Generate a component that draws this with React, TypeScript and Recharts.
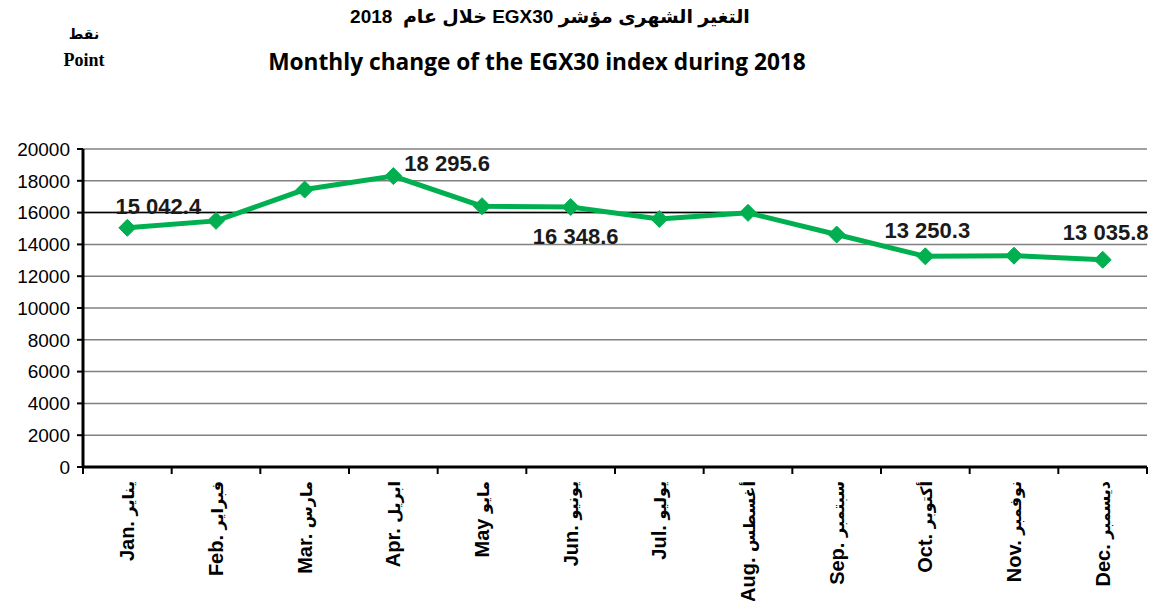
import { LineChart, Line, XAxis, YAxis, CartesianGrid, ReferenceLine } from "recharts";

const months = ["Jan.", "Feb.", "Mar.", "Apr.", "May", "Jun.", "Jul.", "Aug.", "Sep.", "Oct.", "Nov.", "Dec."];
const monthsAr = ["يناير", "فبراير", "مارس", "ابريل", "مايو", "يونيو", "يوليو", "أغسطس", "سبتمبر", "أكتوبر", "نوفمبر", "ديسمبر"];
const egx30 = [15042.4, 15480, 17450, 18295.6, 16400, 16348.6, 15600, 15985, 14620, 13250.3, 13290, 13035.8];
const yTicks = [0, 2000, 4000, 6000, 8000, 10000, 12000, 14000, 16000, 18000, 20000];
const labelledPoints = [0, 3, 5, 9, 11];

const W = 1159;
const H = 601;
const PLOT_LEFT = 83;
const PLOT_RIGHT = 12;
const HALF_BAND = (W - PLOT_LEFT - PLOT_RIGHT) / 24;
const GREEN = "#00b050";
const FONT = "'Liberation Sans', Arial, 'DejaVu Sans', sans-serif";

// where each value label sits relative to its marker
const LABEL_POS: Record<number, { dx: number; dy: number; anchor: "start" | "middle" | "end" }> = {
  0: { dx: 31, dy: -14, anchor: "middle" },
  3: { dx: 11, dy: -5, anchor: "start" },
  5: { dx: 5, dy: 37, anchor: "middle" },
  9: { dx: 2, dy: -18, anchor: "middle" },
  11: { dx: 3, dy: -20, anchor: "middle" },
};

const data = months.map((m, i) => ({ month: m, ar: monthsAr[i], value: egx30[i] }));

function fmtSpace(v: number): string {
  const [int, dec] = v.toFixed(1).split(".");
  return int.replace(/\B(?=(\d{3})+(?!\d))/g, " ") + "." + dec;
}

function MonthTick(props: any) {
  const { x, y, payload, index } = props;
  const i = index ?? payload.index;
  return (
    <g>
      <line x1={x - HALF_BAND} x2={x - HALF_BAND} y1={y} y2={y + 7} stroke="#000" strokeWidth={2} />
      {i === months.length - 1 && (
        <line x1={x + HALF_BAND} x2={x + HALF_BAND} y1={y} y2={y + 7} stroke="#000" strokeWidth={2} />
      )}
      <text
        x={x + 7}
        y={y + 14}
        transform={`rotate(-90, ${x + 7}, ${y + 14})`}
        textAnchor="end"
        fontFamily={FONT}
        fontWeight="bold"
        fontSize={20}
        fill="#000"
      >
        <tspan>{payload.value} </tspan>
        <tspan fontSize={16}>{data[i]?.ar ?? ""}</tspan>
      </text>
    </g>
  );
}

function Diamond(props: any) {
  const { cx, cy, index } = props;
  if (cx == null || cy == null) return <g key={index} />;
  const r = 8.5;
  return (
    <polygon
      key={index}
      points={`${cx},${cy - r} ${cx + r},${cy} ${cx},${cy + r} ${cx - r},${cy}`}
      fill={GREEN}
      stroke={GREEN}
    />
  );
}

function ValueLabel(props: any) {
  const { x, y, value, index } = props;
  if (!labelledPoints.includes(index)) return null;
  const p = LABEL_POS[index];
  return (
    <text
      x={x + p.dx}
      y={y + p.dy}
      textAnchor={p.anchor}
      fontFamily={FONT}
      fontWeight="bold"
      fontSize={22}
      fill="#1a1a1a"
    >
      {fmtSpace(value)}
    </text>
  );
}

export default function App() {
  return (
    <div style={{ position: "absolute", left: 0, top: 0, width: W, height: H, background: "#fff" }}>
      <div
        style={{
          position: "absolute",
          left: 330,
          width: 440,
          top: 5,
          textAlign: "center",
          fontFamily: FONT,
          fontWeight: "bold",
          fontSize: 19,
          direction: "rtl",
        }}
      >
        التغير الشهرى مؤشر EGX30 خلال عام&nbsp;&nbsp;2018
      </div>
      <div
        style={{
          position: "absolute",
          left: 207,
          width: 660,
          top: 46,
          textAlign: "center",
          fontFamily: "'Open Sans', sans-serif",
          fontWeight: "bold",
          fontSize: 22.7,
        }}
      >
        Monthly change of the EGX30 index during 2018
      </div>
      <div
        style={{
          position: "absolute",
          left: 44,
          width: 80,
          top: 26,
          textAlign: "center",
          fontFamily: "'DejaVu Sans', sans-serif",
          fontWeight: "bold",
          fontSize: 14,
        }}
      >
        نقط
      </div>
      <div
        style={{
          position: "absolute",
          left: 44,
          width: 80,
          top: 50,
          textAlign: "center",
          fontFamily: "'Liberation Serif', serif",
          fontWeight: "bold",
          fontSize: 18,
        }}
      >
        Point
      </div>
      <LineChart
        width={W}
        height={H}
        data={data}
        margin={{ top: 149, right: PLOT_RIGHT, left: 8, bottom: 14 }}
      >
        <CartesianGrid vertical={false} stroke="#808080" strokeWidth={1.5} />
        <ReferenceLine y={16000} stroke="#000" strokeWidth={1.5} />
        <XAxis
          dataKey="month"
          padding={{ left: HALF_BAND, right: HALF_BAND }}
          axisLine={{ stroke: "#000", strokeWidth: 3 }}
          tickLine={false}
          tickSize={0}
          tickMargin={0}
          height={120}
          interval={0}
          tick={<MonthTick />}
        />
        <YAxis
          domain={[0, 20000]}
          ticks={yTicks}
          interval={0}
          width={75}
          axisLine={{ stroke: "#000", strokeWidth: 3 }}
          tickLine={{ stroke: "#000", strokeWidth: 2 }}
          tickSize={6}
          tickMargin={7}
          tick={{ fill: "#000", fontSize: 19, fontFamily: FONT }}
        />
        <Line
          dataKey="value"
          stroke={GREEN}
          strokeWidth={5}
          dot={<Diamond />}
          activeDot={false}
          isAnimationActive={false}
          label={<ValueLabel />}
        />
      </LineChart>
    </div>
  );
}
